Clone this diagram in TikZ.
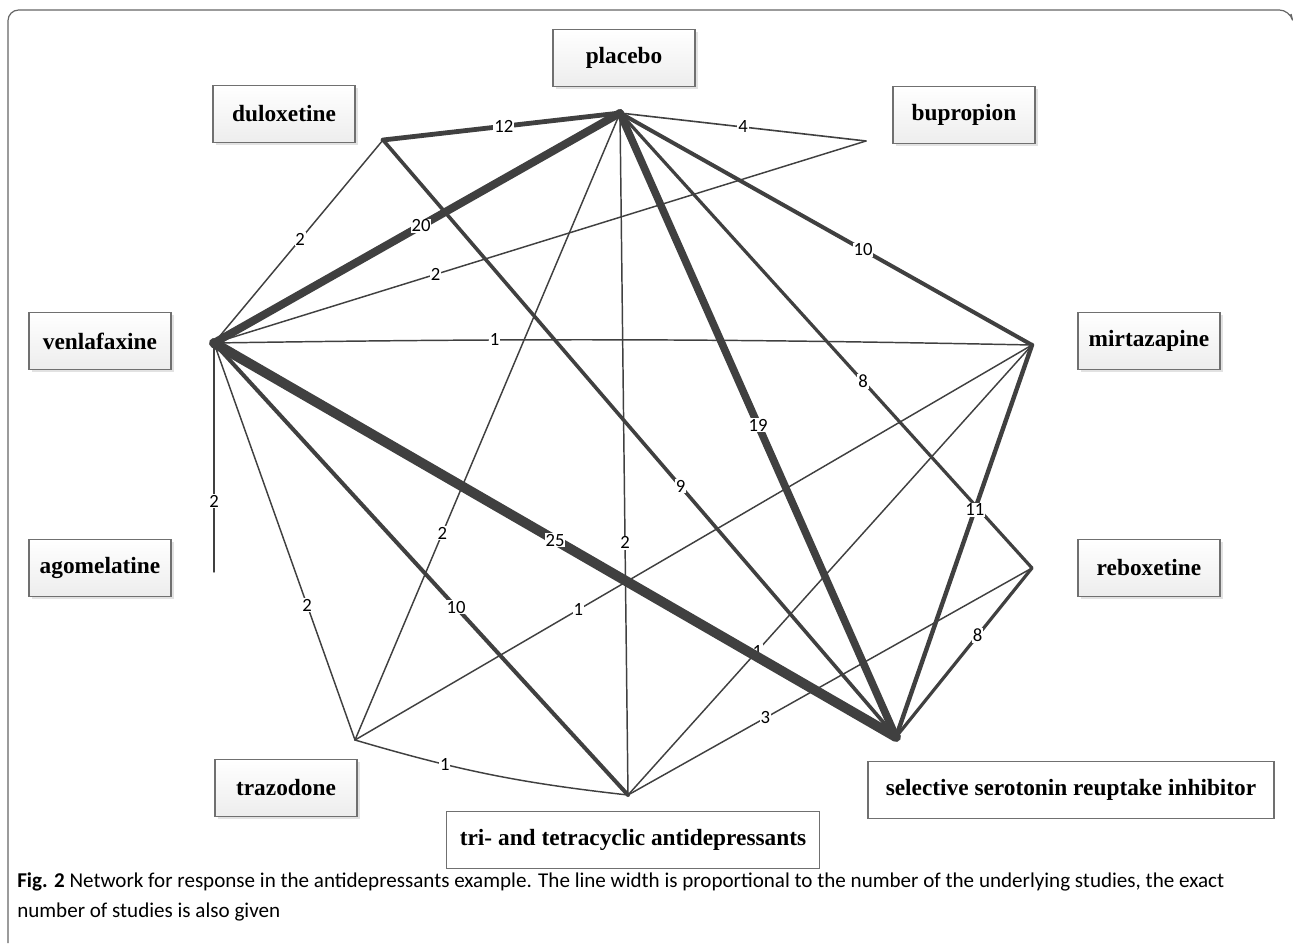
\documentclass[tikz,border=0pt]{standalone}
\usepackage{fontspec}
\setmainfont{Liberation Serif}
\newfontfamily\capfont{Carlito}
\usetikzlibrary{shadows}
\definecolor{edgegray}{HTML}{404040}
\definecolor{boxline}{HTML}{707070}
\tikzset{
  drug/.style={rectangle,draw=boxline,line width=0.8pt,minimum width=106.5pt,minimum height=42.5pt,
    top color=white,bottom color=gray!14,font=\bfseries\fontsize{17.5}{20}\selectfont,
    drop shadow={shadow xshift=2pt,shadow yshift=-2pt,fill=gray!45,opacity=0.5}},
  class/.style={rectangle,draw=boxline,line width=0.8pt,minimum height=42.5pt,fill=white,
    font=\bfseries\fontsize{17.5}{20}\selectfont},
  studies/.style={draw=edgegray,line width={max(1.1pt,0.3pt*#1)},line cap=round},
  num/.style={fill=white,inner sep=0.7pt,font=\capfont\fontsize{14}{14}\selectfont},
}
\begin{document}
\begin{tikzpicture}[x=0.75pt,y=-0.75pt]
\useasboundingbox (0,0) rectangle (1293,943);
% frame
\draw[gray!80!black,line width=0.9pt,rounded corners=8pt] (8,943)--(8,10)--(1290,10)--(1291,14);
% boxes
\path (624,58) node(placebo)[drug]{placebo}
(284,114) node(duloxetine)[drug]{duloxetine}
(964,115) node(bupropion)[drug]{bupropion}
(100,341) node(venlafaxine)[drug]{venlafaxine}
(1149,341) node(mirtazapine)[drug]{mirtazapine}
(100,568) node(agomelatine)[drug]{agomelatine}
(1149,568) node(reboxetine)[drug]{reboxetine}
(286,788) node(trazodone)[drug]{trazodone}
(633,840) node(tca)[class,minimum width=280pt]{tri- and tetracyclic antidepressants}
(1071,790) node(ssri)[class,minimum width=304.5pt]{selective serotonin reuptake inhibitor};
% network points
\coordinate (p) at (620,113);
\coordinate (d) at (383,140);
\coordinate (b) at (866,141);
\coordinate (v) at (214,343);
\coordinate (m) at (1032,345);
\coordinate (a) at (214,572);
\coordinate (r) at (1032,568);
\coordinate (t) at (355,740);
\coordinate (c) at (628,795);
\coordinate (s) at (896,737);
% comparisons
\draw[studies=4](p)--node[num,pos=0.5]{4}(b);
\draw[studies=2](b)--node[num,pos=0.66]{2}(v);
\draw[studies=2](d)--node[num,pos=0.49]{2}(v);
\draw[studies=2](p)--node[num,pos=0.67]{2}(t);
\draw[studies=2](p)--node[num,pos=0.63]{2}(c);
\draw[studies=1](v) to[bend left=1] node[num,pos=0.33]{1}(m);
\draw[studies=2](v)--node[num,pos=0.69]{2}(a);
\draw[studies=2](v)--node[num,pos=0.66]{2}(t);
\draw[studies=1](m)--node[num,pos=0.67]{1}(t);
\draw[studies=1](m)--node[num,pos=0.68]{1}(c);
\draw[studies=1](t) to[bend right=5] node[num,pos=0.32]{1}(c);
\draw[studies=3](c)--node[num,pos=0.34]{3}(r);
\draw[studies=8](p)--node[num,pos=0.59]{8}(r);
\draw[studies=9](d)--node[num,pos=0.58]{9}(s);
\draw[studies=10](p)--node[num,pos=0.59]{10}(m);
\draw[studies=10](v)--node[num,pos=0.585]{10}(c);
\draw[studies=11](m)--node[num,pos=0.42]{11}(s);
\draw[studies=8](r)--node[num,pos=0.4]{8}(s);
\draw[studies=12](p)--node[num,pos=0.49]{12}(d);
\draw[studies=20](p)--node[num,pos=0.49]{20}(v);
\draw[studies=19](p)--node[num,pos=0.5]{19}(s);
\draw[studies=25](v)--node[num,pos=0.5]{25}(s);
% caption
\node(caption)[anchor=north west,align=left,inner sep=0pt,font=\capfont\fontsize{15.8}{22.5}\selectfont] at (17,872)
{\textbf{Fig. 2} Network for response in the antidepressants example. The line width is proportional to the number of the underlying studies, the exact\\
number of studies is also given};
\end{tikzpicture}
\end{document}
